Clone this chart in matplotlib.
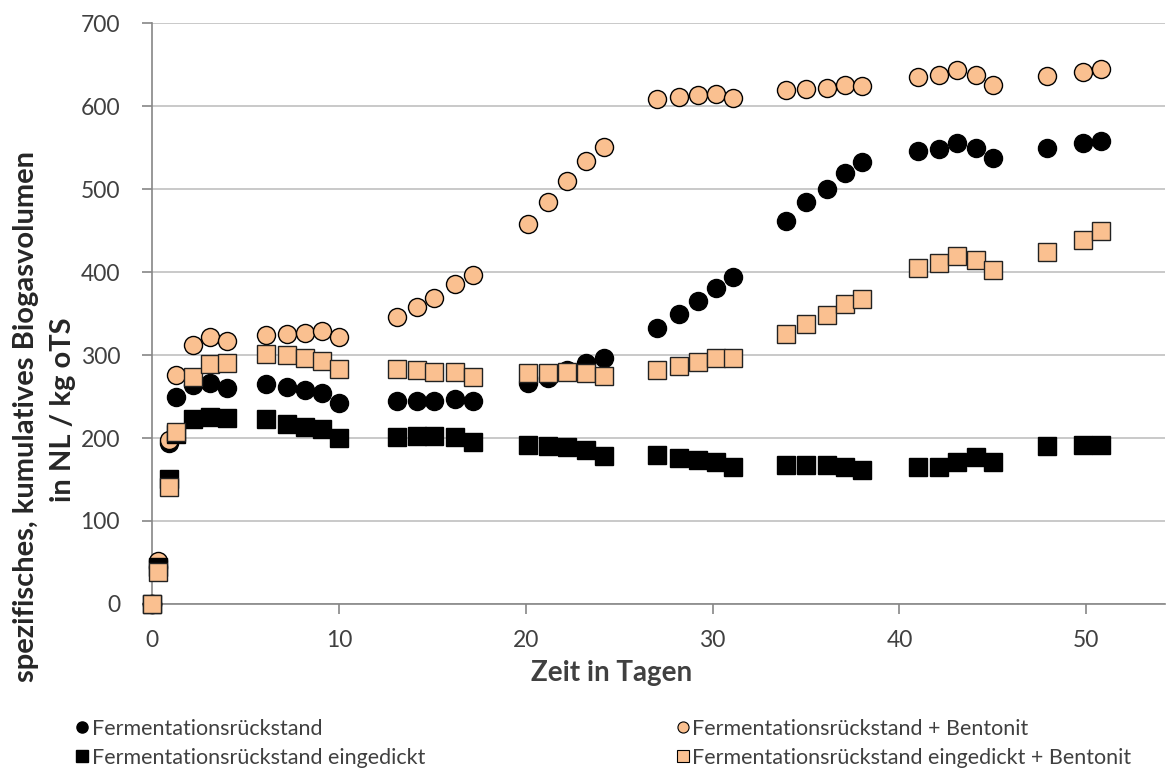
import numpy as np
import matplotlib.pyplot as plt
from matplotlib.lines import Line2D

plt.rcParams['font.family'] = ['Lato', 'DejaVu Sans']

# Messtage (Zeit in Tagen)
days = [0, 0.3, 0.9, 1.3, 2.2, 3.1, 4.0, 6.1, 7.2, 8.2, 9.1, 10.0,
        13.1, 14.2, 15.1, 16.2, 17.2, 20.1, 21.2, 22.2, 23.2, 24.2,
        27.0, 28.2, 29.2, 30.2, 31.1, 33.9, 35.0, 36.1, 37.1, 38.0,
        41.0, 42.1, 43.1, 44.1, 45.0, 47.9, 49.8, 50.8]

# spezifisches, kumulatives Biogasvolumen in NL / kg oTS
fr = [0, 45, 194, 249, 264, 266, 260, 265, 262, 258, 254, 242,
      245, 245, 245, 247, 244, 266, 272, 282, 290, 296,
      333, 350, 365, 381, 394, 461, 484, 500, 519, 532,
      546, 548, 555, 549, 537, 549, 555, 558]
fr_bent = [0, 52, 198, 276, 312, 322, 317, 324, 325, 327, 329, 322,
           346, 358, 369, 386, 396, 458, 484, 510, 534, 551,
           608, 611, 613, 615, 610, 619, 621, 622, 625, 624,
           635, 637, 643, 637, 625, 636, 641, 645]
fr_eing = [0, 45, 151, 205, 223, 225, 224, 223, 217, 213, 211, 200,
           201, 202, 202, 201, 195, 192, 190, 189, 186, 178,
           179, 176, 173, 171, 165, 168, 168, 167, 165, 161,
           165, 165, 171, 177, 171, 190, 192, 192]
fr_eing_bent = [0, 39, 141, 207, 273, 289, 290, 301, 300, 296, 293, 283,
                283, 282, 280, 279, 273, 278, 278, 279, 278, 275,
                282, 287, 291, 296, 296, 325, 337, 348, 362, 367,
                405, 411, 419, 414, 403, 424, 439, 449]

labels = ['Fermentationsrückstand',
          'Fermentationsrückstand + Bentonit',
          'Fermentationsrückstand eingedickt',
          'Fermentationsrückstand eingedickt + Bentonit']

orange = '#FAC090'
grid_c = '#c0c0c0'
axis_c = '#868686'
text_c = '#404040'

fig = plt.figure(figsize=(11.66, 7.69), dpi=100)
ax = fig.add_axes([0.1304, 0.2146, 0.8686, 0.7554])

ax.plot(days, fr, 'o', ms=13, mfc='black', mec='black', mew=1, ls='none', zorder=3, clip_on=False)
ax.plot(days, fr_bent, 'o', ms=13, mfc=orange, mec='black', mew=1, ls='none', zorder=3, clip_on=False)
ax.plot(days, fr_eing, 's', ms=12.5, mfc='black', mec='black', mew=1, ls='none', zorder=3, clip_on=False)
ax.plot(days, fr_eing_bent, 's', ms=12.5, mfc=orange, mec='#222222', mew=1, ls='none', zorder=3, clip_on=False)

ax.set_xlim(0, 54.2)
ax.set_ylim(0, 700)
ax.set_xticks(np.arange(0, 51, 10))
ax.set_yticks(np.arange(0, 701, 100))
ax.yaxis.grid(True, color=grid_c, lw=1.2)
ax.set_axisbelow(True)
for s in ['top', 'right']:
    ax.spines[s].set_visible(False)
for s in ['left', 'bottom']:
    ax.spines[s].set_color(axis_c)
    ax.spines[s].set_linewidth(1.2)
ax.tick_params(axis='both', colors=axis_c, labelcolor=text_c, labelsize=16.5,
               length=7, width=1.2)
ax.tick_params(axis='y', pad=16)
ax.tick_params(axis='x', pad=12)

ax.set_xlabel('Zeit in Tagen', fontsize=20, fontweight='bold', color=text_c, va='center')
ax.xaxis.set_label_coords(0.4536, -0.119)

# y-Achsentitel, zweizeilig
fig.text(26 / 1166, 1 - 416 / 769, 'spezifisches, kumulatives Biogasvolumen',
         rotation=90, ha='center', va='center', fontsize=21, fontweight='bold', color='#262626')
fig.text(63 / 1166, 1 - 410 / 769, 'in NL / kg oTS',
         rotation=90, ha='center', va='center', fontsize=21, fontweight='bold', color='#262626')

h = [Line2D([], [], marker='o', ls='none', ms=8, mfc='black', mec='black'),
     Line2D([], [], marker='o', ls='none', ms=8, mfc=orange, mec='black', mew=0.8),
     Line2D([], [], marker='s', ls='none', ms=8, mfc='black', mec='black'),
     Line2D([], [], marker='s', ls='none', ms=8, mfc=orange, mec='black', mew=0.8)]

kw = dict(frameon=False, fontsize=15.5, handlelength=0.6, handletextpad=0.15,
          labelspacing=0.42, borderaxespad=0, borderpad=0, loc='center left',
          labelcolor=text_c)
fig.legend([h[0], h[2]], [labels[0], labels[2]], bbox_to_anchor=(0.0652, 0.0332), **kw)
fig.legend([h[1], h[3]], [labels[1], labels[3]], bbox_to_anchor=(0.5798, 0.0332), **kw)

fig.savefig('out.png', dpi=100)
